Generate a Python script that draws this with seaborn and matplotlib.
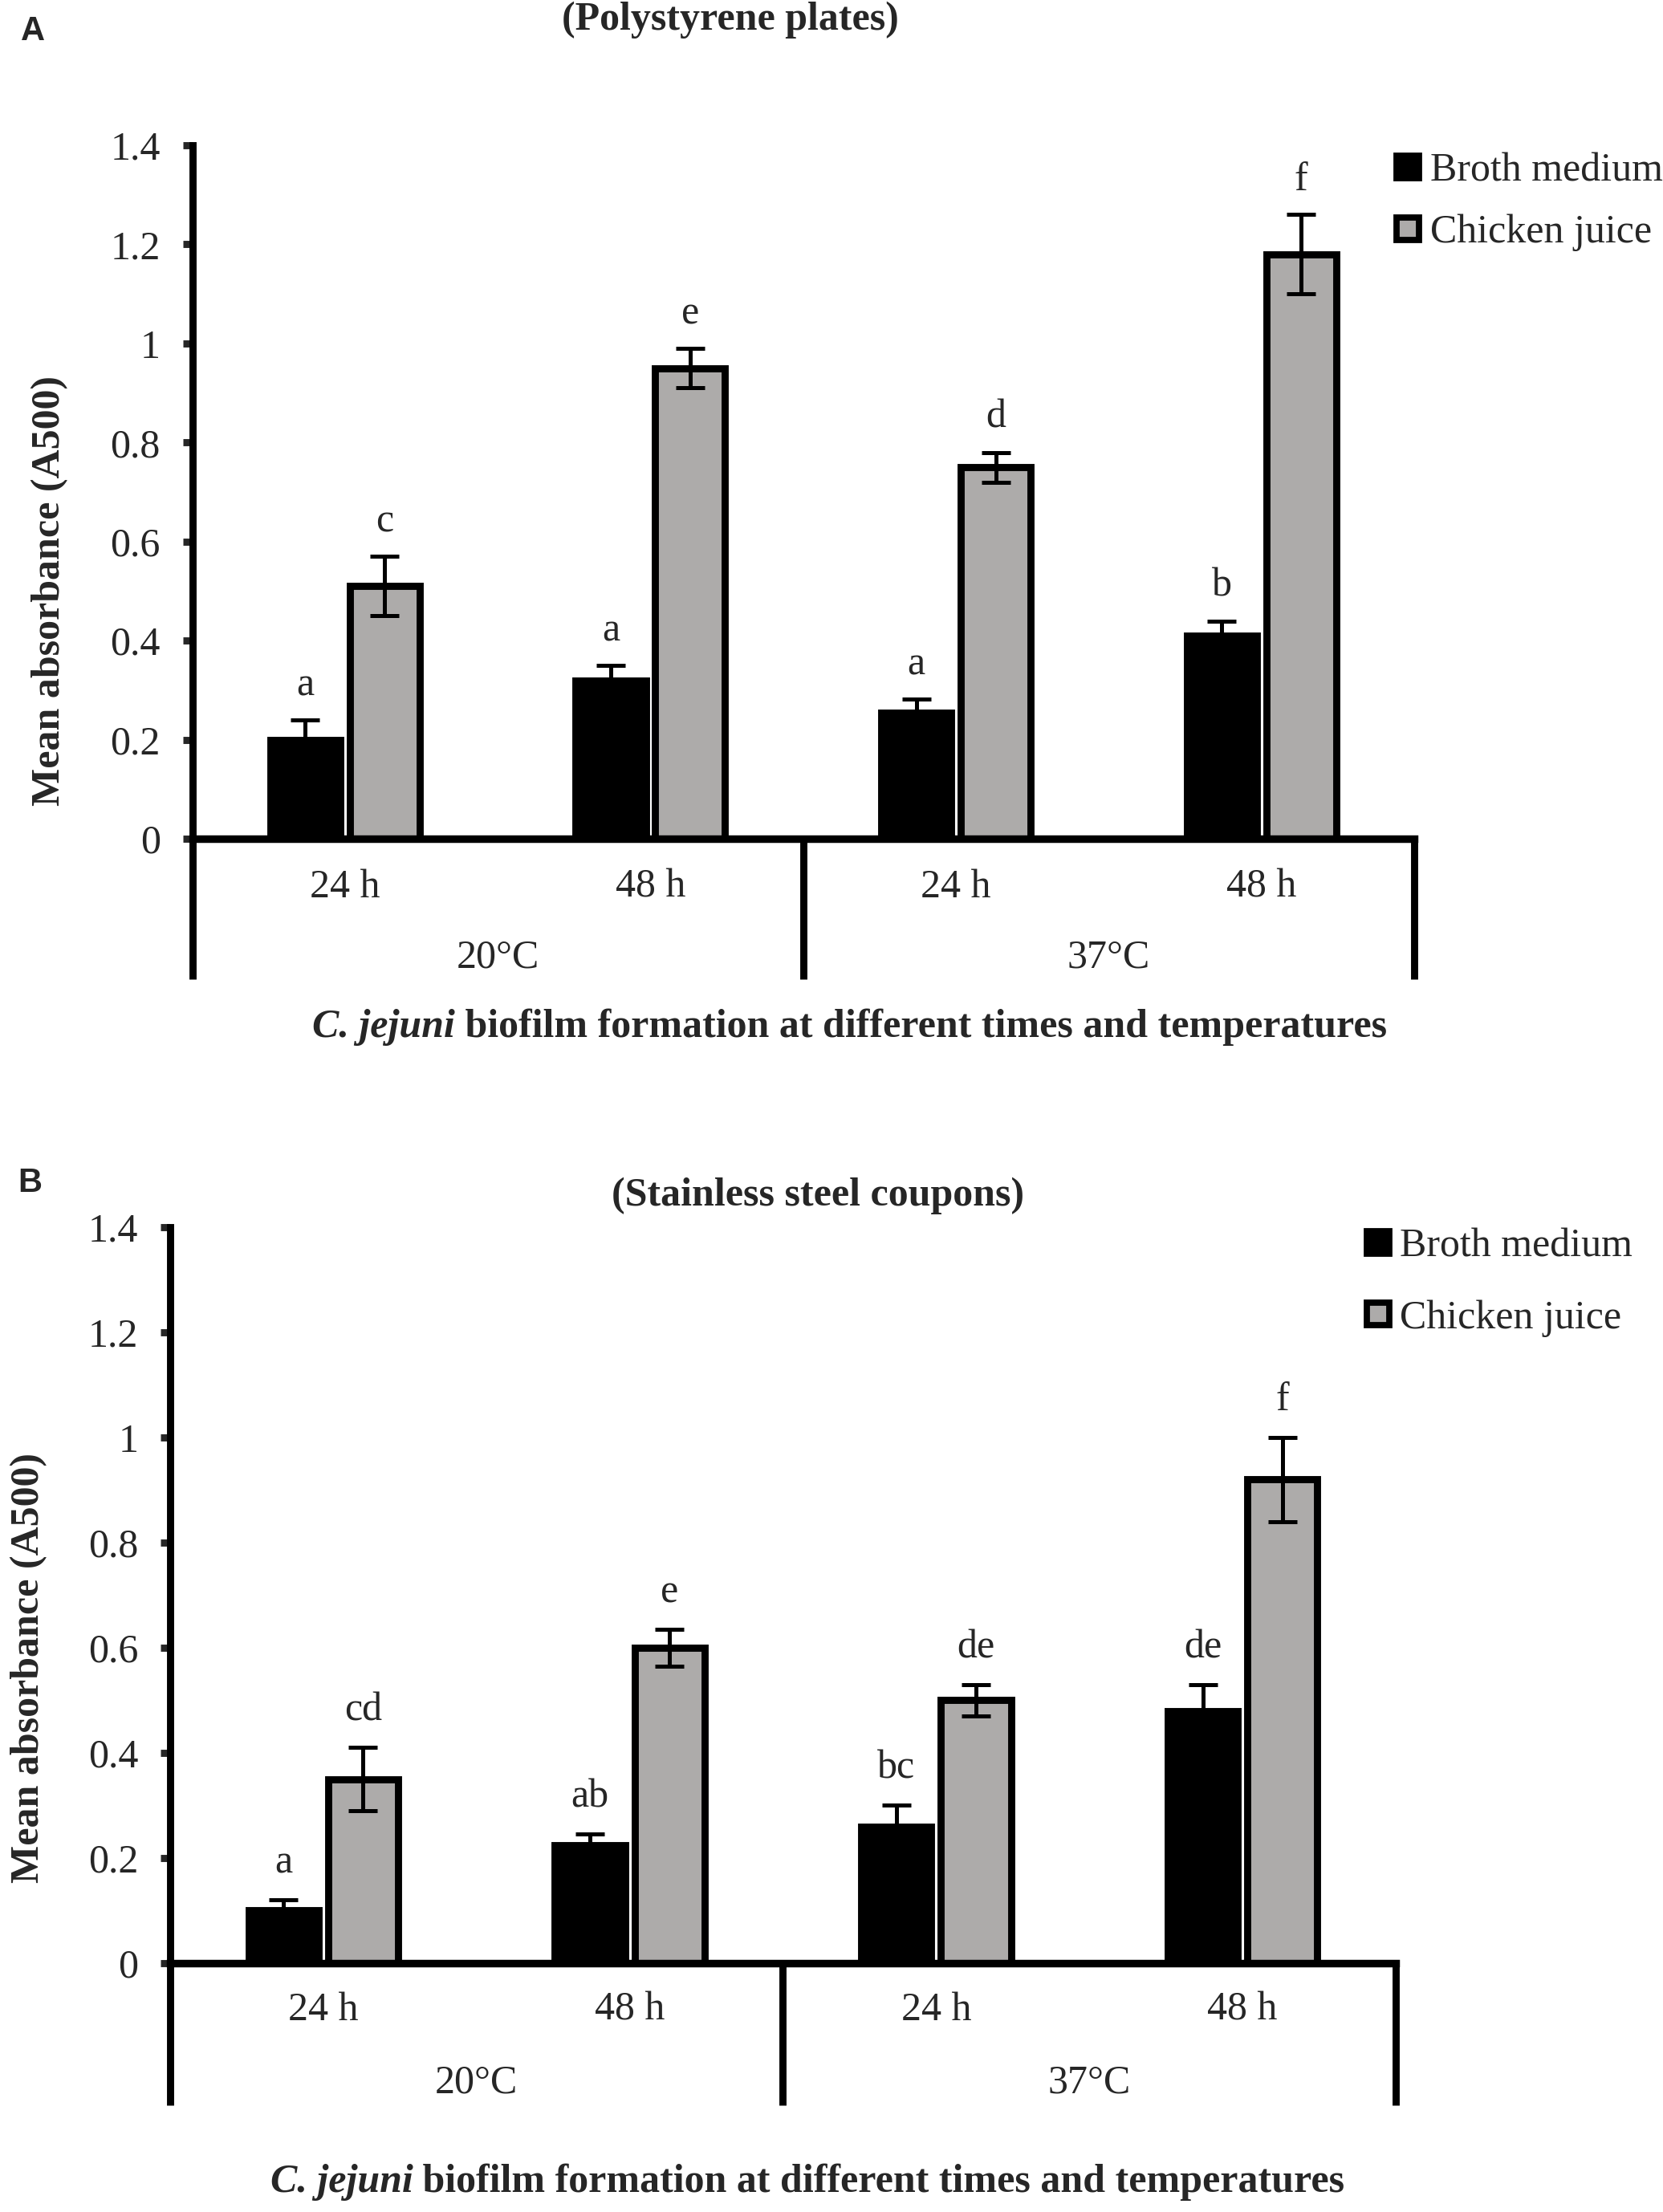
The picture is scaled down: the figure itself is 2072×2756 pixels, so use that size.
import numpy as np
import pandas as pd
import seaborn as sns
import matplotlib.pyplot as plt
from matplotlib.lines import Line2D

# categories
conditions = ["20°C 24 h", "20°C 48 h", "37°C 24 h", "37°C 48 h"]
time_labels = ["24 h", "48 h", "24 h", "48 h"]
temp_labels = ["20°C", "37°C"]
media = ["Broth medium", "Chicken juice"]

# panel A - polystyrene plates
a_broth = [0.20, 0.32, 0.255, 0.41]
a_broth_err = [0.04, 0.03, 0.027, 0.03]
a_chicken = [0.51, 0.95, 0.75, 1.18]
a_chicken_err = [0.06, 0.04, 0.03, 0.08]
a_broth_letters = ["a", "a", "a", "b"]
a_chicken_letters = ["c", "e", "d", "f"]

# panel B - stainless steel coupons
b_broth = [0.10, 0.225, 0.26, 0.48]
b_broth_err = [0.02, 0.02, 0.04, 0.05]
b_chicken = [0.35, 0.60, 0.50, 0.92]
b_chicken_err = [0.06, 0.035, 0.03, 0.08]
b_broth_letters = ["a", "ab", "bc", "de"]
b_chicken_letters = ["cd", "e", "de", "f"]

yticks = [0, 0.2, 0.4, 0.6, 0.8, 1.0, 1.2, 1.4]

GREY = "#adabaa"
FS = 18

sns.set_theme(style="white")
plt.rcParams['font.family'] = ['Liberation Serif', 'DejaVu Serif']


def panel(ax, broth, broth_err, chicken, chicken_err, broth_let, chicken_let, ext, tick_y, temp_y):
    df = pd.DataFrame({
        "condition": conditions * 2,
        "medium": [media[0]] * 4 + [media[1]] * 4,
        "absorbance": broth + chicken,
    })
    sns.barplot(data=df, x="condition", y="absorbance", hue="medium",
                order=conditions, hue_order=media, palette=["black", GREY],
                saturation=1, width=0.52, gap=0.12, edgecolor="black",
                linewidth=3.2, errorbar=None, legend=False, ax=ax)
    # error bars + significance letters
    for cont, err, lets in zip(ax.containers, [broth_err, chicken_err], [broth_let, chicken_let]):
        for bar, e, lab in zip(cont, err, lets):
            cx = bar.get_x() + bar.get_width() / 2
            h = bar.get_height()
            ax.errorbar(cx, h, yerr=e, fmt="none", ecolor="black",
                        elinewidth=1.8, capsize=6.5, capthick=1.8, zorder=5)
            ax.text(cx, h + e + 0.07, lab, ha="center", va="center", fontsize=FS)

    ax.set_xlim(-0.5, 3.5)
    ax.set_ylim(0, 1.4)
    ax.set_yticks(yticks)
    ax.set_yticklabels([f"{v:g}" for v in yticks], fontsize=FS)
    ax.set_xticks(range(4))
    ax.set_xticklabels([])
    ax.set_xlabel("")
    ax.set_ylabel("")
    ax.tick_params(axis="x", length=0)
    ax.tick_params(axis="y", left=True, direction="out", length=4.3, width=3.2, pad=10)
    for s in ["top", "right"]:
        ax.spines[s].set_visible(False)
    ax.spines["left"].set_linewidth(3.2)
    ax.spines["bottom"].set_linewidth(3.4)
    ax.spines["left"].set_color("black")
    ax.spines["bottom"].set_color("black")

    # category box lines below axis
    tr = ax.get_xaxis_transform()
    for xs in [-0.5, 1.5, 3.5]:
        ax.plot([xs, xs], [0, -ext], transform=tr, color="black", lw=3.2,
                clip_on=False, solid_capstyle="butt")
    for i, lab in enumerate(time_labels):
        ax.text(i, tick_y, lab, transform=tr, ha="center", va="center", fontsize=FS)
    for i, lab in enumerate(temp_labels):
        ax.text(2 * i + 0.5, temp_y, lab, transform=tr, ha="center", va="center", fontsize=FS)


def legend(fig, x, y, spacing):
    handles = [
        Line2D([], [], marker="s", ls="", mfc="black", mec="black", ms=10, mew=2.8),
        Line2D([], [], marker="s", ls="", mfc=GREY, mec="black", ms=10, mew=2.8),
    ]
    fig.legend(handles, media, loc="upper left", bbox_to_anchor=(x, y),
               bbox_transform=fig.transFigure, frameon=False, fontsize=FS,
               handlelength=0.8, handletextpad=0.15, borderpad=0,
               borderaxespad=0, labelspacing=spacing)


def xlabel(fig, cx, y):
    t1 = fig.text(0, y, "C. jejuni", fontsize=FS, fontweight="bold", style="italic",
                  ha="left", va="center")
    t2 = fig.text(0, y, " biofilm formation at different times and temperatures",
                  fontsize=FS, fontweight="bold", ha="left", va="center")
    fig.canvas.draw()
    r = fig.canvas.get_renderer()
    W = fig.bbox.width
    w1 = t1.get_window_extent(r).width / W
    w2 = t2.get_window_extent(r).width / W
    x0 = cx - (w1 + w2) / 2
    t1.set_x(x0)
    t2.set_x(x0 + w1)


fig = plt.figure(figsize=(10.36, 13.78), dpi=200)

axA = fig.add_axes([0.1156, 0.6208, 0.7348, 0.3135])
panel(axA, a_broth, a_broth_err, a_chicken, a_chicken_err,
      a_broth_letters, a_chicken_letters, 0.2025, -0.070, -0.172)

axB = fig.add_axes([0.1023, 0.1125, 0.7370, 0.3327])
panel(axB, b_broth, b_broth_err, b_chicken, b_chicken_err,
      b_broth_letters, b_chicken_letters, 0.193, -0.064, -0.163)

legend(fig, 0.8369, 0.9309, 0.6)
legend(fig, 0.819, 0.4447, 0.85)

fig.text(0.439, 0.991, "(Polystyrene plates)", fontsize=FS, fontweight="bold",
         ha="center", va="center")
fig.text(0.492, 0.4594, "(Stainless steel coupons)", fontsize=FS, fontweight="bold",
         ha="center", va="center")

fig.text(0.020, 0.986, "A", fontsize=15, fontweight="bold",
         family=["Liberation Sans", "DejaVu Sans"], ha="center", va="center")
fig.text(0.018, 0.465, "B", fontsize=15, fontweight="bold",
         family=["Liberation Sans", "DejaVu Sans"], ha="center", va="center")

fig.text(0.030, 0.733, "Mean absorbance (A500)", fontsize=FS, fontweight="bold",
         rotation=90, ha="center", va="center")
fig.text(0.0175, 0.246, "Mean absorbance (A500)", fontsize=FS, fontweight="bold",
         rotation=90, ha="center", va="center")

xlabel(fig, 0.511, 0.5356)
xlabel(fig, 0.4855, 0.0135)

fig.savefig("out.png", dpi=200)
